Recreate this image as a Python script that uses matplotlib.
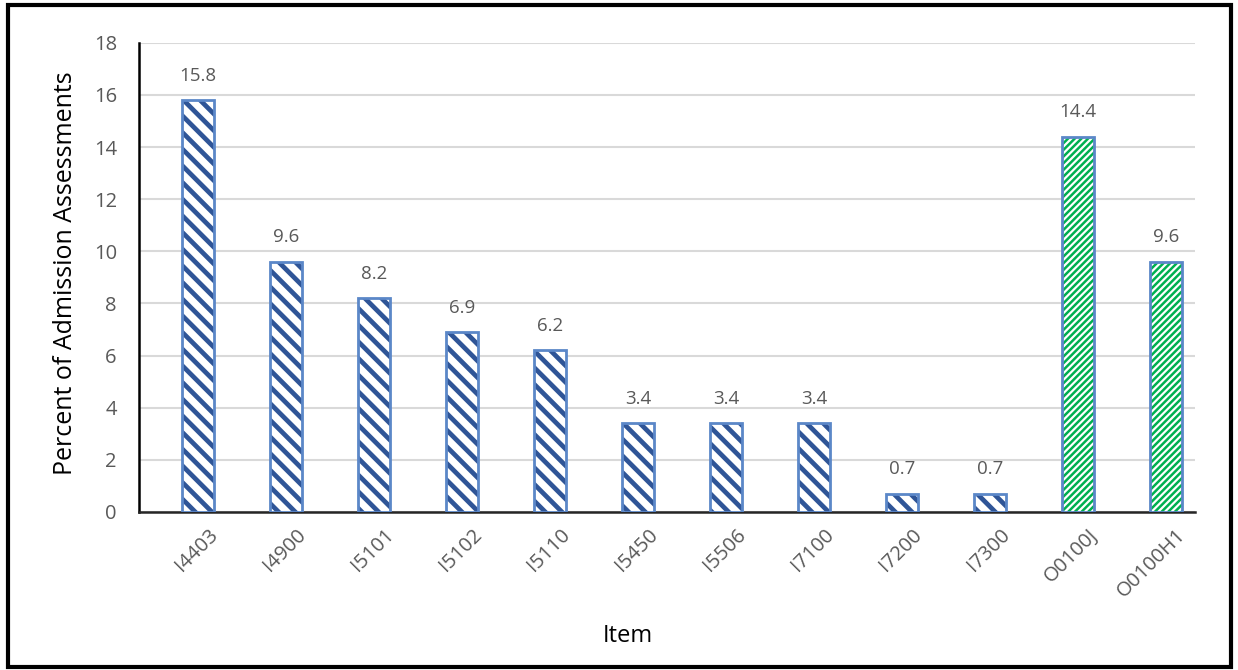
import matplotlib
matplotlib.use("Agg")
import matplotlib.pyplot as plt
import matplotlib.transforms as mtransforms
from matplotlib.patches import Rectangle

items = ["I4403", "I4900", "I5101", "I5102", "I5110", "I5450", "I5506",
         "I7100", "I7200", "I7300", "O0100J", "O0100H1"]
percents = [15.8, 9.6, 8.2, 6.9, 6.2, 3.4, 3.4, 3.4, 0.7, 0.7, 14.4, 9.6]
groups = ["I"] * 10 + ["O"] * 2

hatch_colors = {"I": "#2F5597", "O": "#00B050"}
hatches = {"I": "\\\\", "O": "/////"}
hatch_widths = {"I": 3.4, "O": 1.8}
edge_color = "#5B87C8"

plt.rcParams["font.family"] = ["Open Sans", "DejaVu Sans"]

fig = plt.figure(figsize=(12.38, 6.7), dpi=100)
ax = fig.add_axes([0.1123, 0.236, 0.8530, 0.700])

x = list(range(len(items)))
for xi, val, g in zip(x, percents, groups):
    plt.rcParams["hatch.linewidth"] = hatch_widths[g]
    ax.bar(xi, val, width=0.36, color="white", edgecolor=hatch_colors[g],
           hatch=hatches[g], linewidth=0, zorder=3)
    ax.bar(xi, val, width=0.36, fill=False, edgecolor=edge_color,
           linewidth=2, zorder=4)
    ax.annotate(f"{val:.1f}", (xi, val), xytext=(0, 11), textcoords="offset points",
                ha="center", va="bottom", fontsize=13.5, color="#595959")

ax.set_xlim(-0.67, 11.33)
ax.set_ylim(0, 18)
ax.set_yticks(range(0, 19, 2))
ax.set_xticks(x)
ax.set_xticklabels(items, rotation=45, ha="right", rotation_mode="anchor")
ax.tick_params(axis="both", length=0, labelsize=14.5, labelcolor="#595959")
ax.tick_params(axis="y", pad=16)
ax.tick_params(axis="x", pad=8)
shift = mtransforms.ScaledTranslation(10 / 100, -2 / 100, fig.dpi_scale_trans)
for lbl in ax.get_xticklabels():
    lbl.set_transform(lbl.get_transform() + shift)
ax.grid(axis="y", color="#D9D9D9", linewidth=1.5, zorder=0)
ax.set_axisbelow(True)
for s in ["top", "right"]:
    ax.spines[s].set_visible(False)
ax.spines["left"].set_color("black")
ax.spines["left"].set_linewidth(1.8)
ax.spines["bottom"].set_color("#262626")
ax.spines["bottom"].set_linewidth(1.8)

fig.text(66 / 1238, 1 - 273 / 670, "Percent of Admission Assessments", fontsize=18,
         rotation=90, ha="center", va="center")
fig.text(628 / 1238, 1 - 636 / 670, "Item", fontsize=17, ha="center", va="center")

fig.patches.append(Rectangle((0.0065, 0.004), 0.988, 0.988, transform=fig.transFigure,
                             fill=False, edgecolor="black", linewidth=3))

fig.savefig("out.png", dpi=100)
